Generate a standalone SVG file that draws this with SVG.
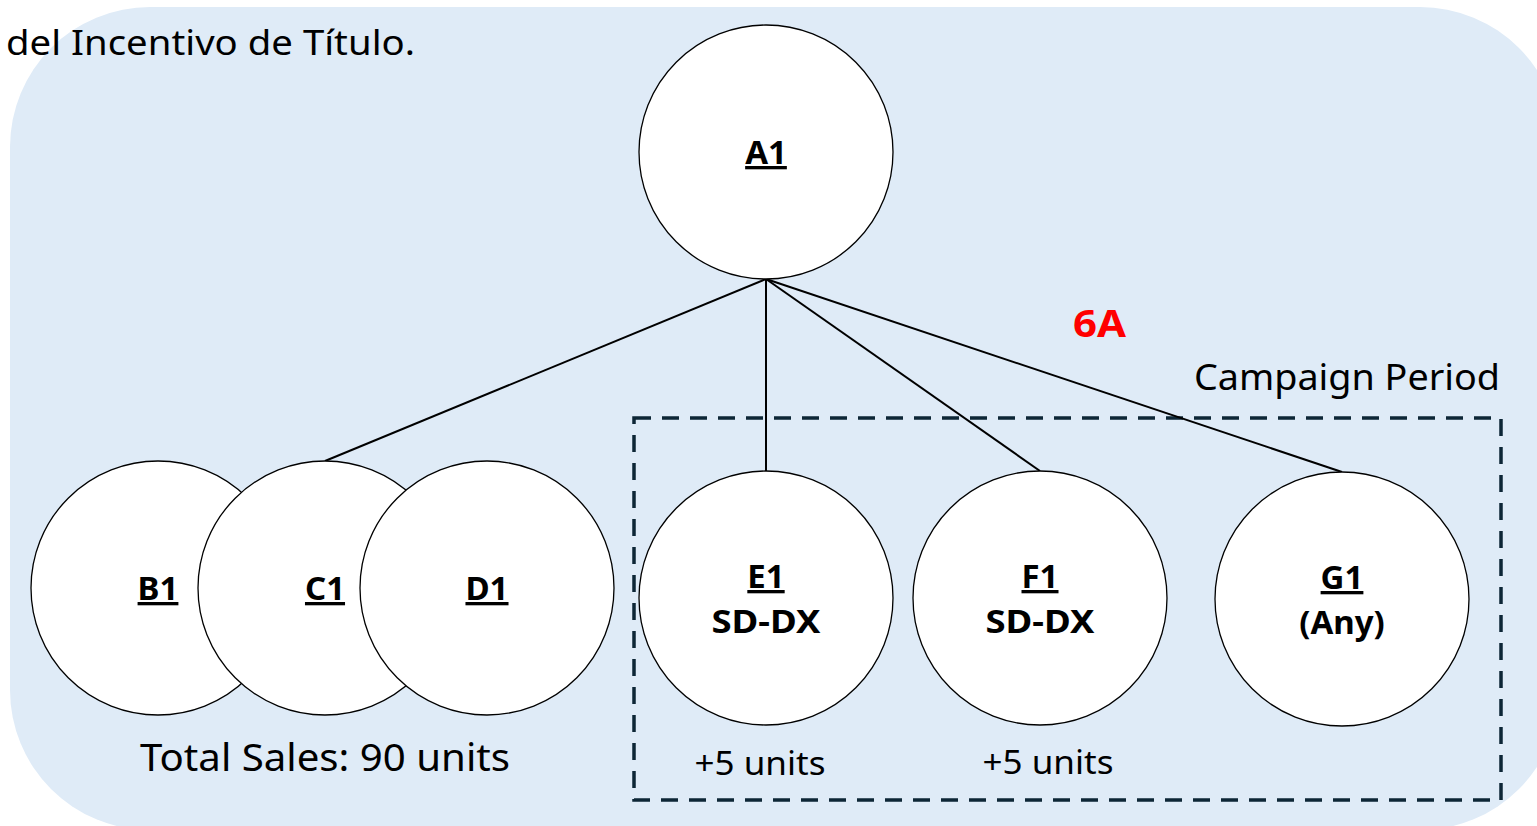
<svg xmlns="http://www.w3.org/2000/svg" width="1537" height="826" viewBox="0 0 1537 826">
  <style>
    .node circle { fill: #ffffff; stroke: #000000; stroke-width: 1.3; }
    .lbl { font-family: "Noto Sans", "Liberation Sans", sans-serif; font-weight: bold; font-size: 33px; text-anchor: middle; fill: #000; }
    .u { text-decoration: underline; }
    .plain { font-family: "Noto Sans", "Liberation Sans", sans-serif; fill: #000; }
    .edge { stroke: #000; stroke-width: 2; fill: none; }
  </style>
  <!-- background panel -->
  <rect x="10" y="7" width="1550" height="823" rx="140" ry="140" fill="#DFEBF7"/>
  <text class="plain" x="6" y="55" font-size="35" textLength="409" lengthAdjust="spacingAndGlyphs">del Incentivo de Título.</text>

  <!-- campaign period frame -->
  <rect x="634" y="418" width="867" height="382" fill="none" stroke="#0D2636" stroke-width="3.5" stroke-dasharray="17 11"/>
  <text class="plain" x="1194" y="390" font-size="37" textLength="306" lengthAdjust="spacingAndGlyphs">Campaign Period</text>
  <text x="1073" y="337" font-family="Noto Sans, Liberation Sans, sans-serif" font-weight="bold" font-size="37" fill="#FF0000" textLength="53" lengthAdjust="spacingAndGlyphs">6A</text>

  <g id="connectors">
    <line class="edge" x1="766" y1="279" x2="325" y2="461"/>
    <line class="edge" x1="766" y1="279" x2="766" y2="471"/>
    <line class="edge" x1="766" y1="279" x2="1040" y2="471"/>
    <line class="edge" x1="766" y1="279" x2="1342" y2="472"/>
  </g>

  <g id="A1" class="node">
    <circle cx="766" cy="152" r="127"/>
    <text class="lbl u" x="766" y="164">A1</text>
  </g>
  <g id="B1" class="node">
    <circle cx="158" cy="588" r="127"/>
    <text class="lbl u" x="158" y="600">B1</text>
  </g>
  <g id="C1" class="node">
    <circle cx="325" cy="588" r="127"/>
    <text class="lbl u" x="325" y="600">C1</text>
  </g>
  <g id="D1" class="node">
    <circle cx="487" cy="588" r="127"/>
    <text class="lbl u" x="487" y="600">D1</text>
  </g>
  <g id="E1" class="node">
    <circle cx="766" cy="598" r="127"/>
    <text class="lbl u" x="766" y="588">E1</text>
    <text class="lbl" x="766" y="633" textLength="109" lengthAdjust="spacingAndGlyphs">SD-DX</text>
  </g>
  <g id="F1" class="node">
    <circle cx="1040" cy="598" r="127"/>
    <text class="lbl u" x="1040" y="588">F1</text>
    <text class="lbl" x="1040" y="633" textLength="109" lengthAdjust="spacingAndGlyphs">SD-DX</text>
  </g>
  <g id="G1" class="node">
    <circle cx="1342" cy="599" r="127"/>
    <text class="lbl u" x="1342" y="589">G1</text>
    <text class="lbl" x="1342" y="634">(Any)</text>
  </g>

  <text class="plain" x="325" y="771" font-size="38" text-anchor="middle" textLength="370" lengthAdjust="spacingAndGlyphs">Total Sales: 90 units</text>
  <text class="plain" x="760" y="775" font-size="32" text-anchor="middle" textLength="131" lengthAdjust="spacingAndGlyphs">+5 units</text>
  <text class="plain" x="1048" y="774" font-size="32" text-anchor="middle" textLength="131" lengthAdjust="spacingAndGlyphs">+5 units</text>
</svg>
